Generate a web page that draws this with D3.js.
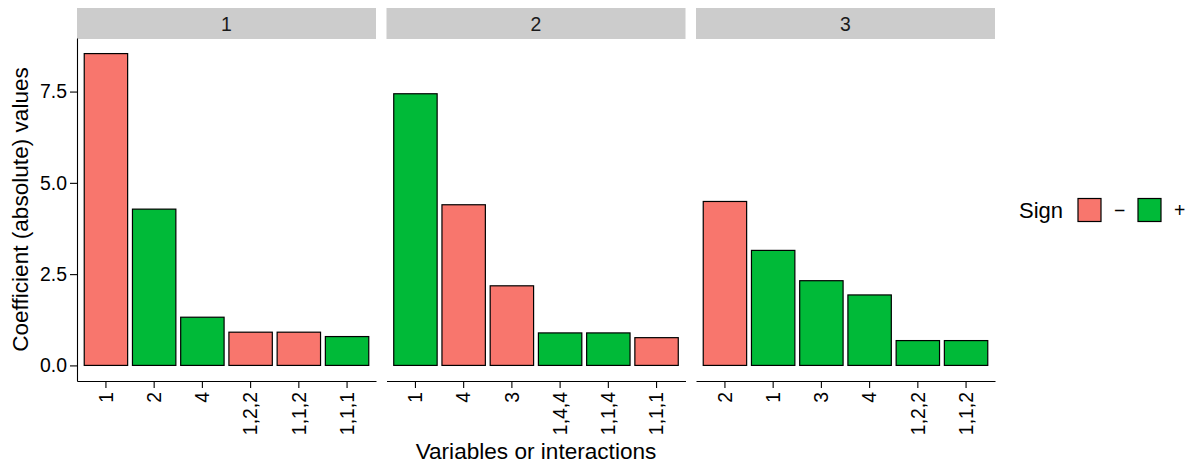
<!DOCTYPE html>
<html><head><meta charset="utf-8">
<script src="https://cdn.jsdelivr.net/npm/d3@7"></script>
<style>body{margin:0;background:#fff}svg{display:block;font-family:"Liberation Sans",Arial,sans-serif}</style>
</head><body><svg id="c" width="1192" height="463"></svg>
<script>
const panels = ["1", "2", "3"];
const cats1 = ["1", "2", "4", "1,2,2", "1,1,2", "1,1,1"];
const vals1 = [8.54, 4.28, 1.32, 0.91, 0.91, 0.79];
const signs1 = ["−", "+", "+", "−", "−", "+"];
const cats2 = ["1", "4", "3", "1,4,4", "1,1,4", "1,1,1"];
const vals2 = [7.44, 4.40, 2.18, 0.89, 0.89, 0.76];
const signs2 = ["+", "−", "−", "+", "+", "−"];
const cats3 = ["2", "1", "3", "4", "1,2,2", "1,1,2"];
const vals3 = [4.49, 3.15, 2.32, 1.93, 0.68, 0.68];
const signs3 = ["−", "+", "+", "+", "+", "+"];
const signLevels = ["−", "+"];
const yTicks = [0, 2.5, 5, 7.5];

const panelData = [
  {cats: cats1, vals: vals1, signs: signs1},
  {cats: cats2, vals: vals2, signs: signs2},
  {cats: cats3, vals: vals3, signs: signs3}
];

const svg = d3.select("#c");
const color = d3.scaleOrdinal().domain(signLevels).range(["#F8766D", "#00BA38"]);

const tickFont = 19.4, titleFont = 22.6;
const plotTop = 38, plotBottom = 381;
const panelX = [77, 386.5, 696];
const panelW = 299;
const allVals = vals1.concat(vals2, vals3);
const ymax = d3.max(allVals), ymin = 0;
const ex = (ymax - ymin) * 0.05;
const y = d3.scaleLinear().domain([ymin - ex, ymax + ex]).range([plotBottom, plotTop]);

panels.forEach((p, i) => {
  const d = panelData[i];
  const g = svg.append("g").attr("transform", `translate(${panelX[i]},0)`);
  g.append("rect").attr("x", 0).attr("y", 8).attr("width", panelW).attr("height", 31).attr("fill", "#CCCCCC");
  g.append("text").attr("x", panelW / 2).attr("y", 23.5).attr("text-anchor", "middle")
    .attr("dominant-baseline", "central").attr("font-size", tickFont).attr("fill", "#1a1a1a").text(p);
  const x = d3.scaleBand().domain(d.cats).range([0, panelW]).paddingInner(0.1).paddingOuter(0.15);
  const rows = d.cats.map((c, j) => ({c, v: d.vals[j], s: d.signs[j]}));
  g.selectAll("rect.bar").data(rows).join("rect").attr("class", "bar")
    .attr("x", r => x(r.c)).attr("width", x.bandwidth())
    .attr("y", r => y(r.v)).attr("height", r => y(0) - y(r.v))
    .attr("fill", r => color(r.s)).attr("stroke", "#000").attr("stroke-width", 1.2);
  const xa = g.append("g").attr("transform", `translate(0,${plotBottom})`)
    .call(d3.axisBottom(x).tickSize(7).tickSizeOuter(0).tickPadding(4));
  xa.select(".domain").attr("stroke", "#000").attr("stroke-width", 1.1);
  xa.selectAll(".tick line").attr("stroke", "#000").attr("stroke-width", 1.1);
  xa.selectAll(".tick text").attr("font-size", tickFont).attr("fill", "#000")
    .attr("font-family", "'Liberation Sans',Arial,sans-serif")
    .attr("transform", "rotate(-90)").attr("text-anchor", "end")
    .attr("x", -11).attr("y", 0).attr("dy", "0.35em");
  if (i === 0) {
    const ya = g.append("g").call(d3.axisLeft(y).tickValues(yTicks).tickFormat(d3.format(".1f")).tickSize(7).tickSizeOuter(0).tickPadding(3));
    ya.select(".domain").attr("stroke", "#000").attr("stroke-width", 1.1);
    ya.selectAll(".tick line").attr("stroke", "#000").attr("stroke-width", 1.1);
    ya.selectAll(".tick text").attr("font-size", tickFont).attr("fill", "#000")
      .attr("font-family", "'Liberation Sans',Arial,sans-serif");
  }
});

svg.append("text").attr("x", panelX[1] + panelW / 2).attr("y", 459).attr("text-anchor", "middle")
  .attr("font-size", titleFont).attr("fill", "#000").text("Variables or interactions");
svg.append("text").attr("transform", `translate(27.5,${(plotTop + plotBottom) / 2}) rotate(-90)`)
  .attr("text-anchor", "middle").attr("font-size", titleFont).attr("fill", "#000").text("Coefficient (absolute) values");

const lg = svg.append("g");
lg.append("text").attr("x", 1019).attr("y", 218).attr("font-size", 22).attr("fill", "#000").text("Sign");
const lx = [1078, 1138];
signLevels.forEach((s, k) => {
  lg.append("rect").attr("x", lx[k]).attr("y", 198.5).attr("width", 23).attr("height", 23)
    .attr("fill", color(s)).attr("stroke", "#000").attr("stroke-width", 1.2);
  lg.append("text").attr("x", lx[k] + 36).attr("y", 216.5).attr("font-size", tickFont).attr("fill", "#000").text(s);
});
</script></body></html>
